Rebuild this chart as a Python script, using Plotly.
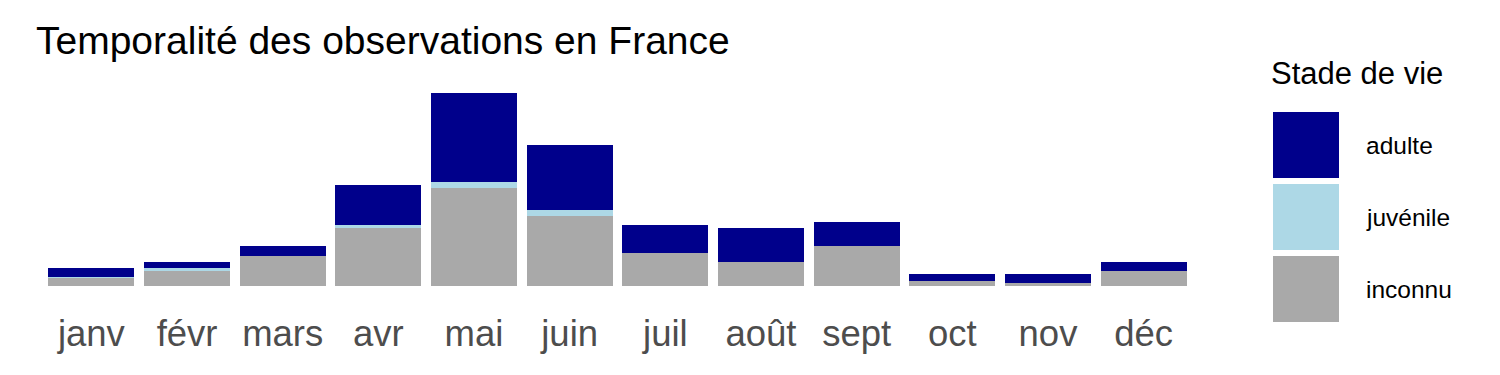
import plotly.graph_objects as go

months = ["janv", "févr", "mars", "avr", "mai", "juin", "juil", "août", "sept", "oct", "nov", "déc"]
inconnu = [9, 15, 30, 58, 98, 70, 33, 24, 40, 5.5, 3.3, 15]
juvenile = [0.4, 3, 0, 3, 6, 6, 0, 0, 0, 0, 0, 0]
adulte = [9, 6, 10, 40, 89, 65, 28, 34, 24, 6.5, 8.7, 9]

stages = ["inconnu", "juvénile", "adulte"]
stage_colors = {"adulte": "#00008B", "juvénile": "#ADD8E6", "inconnu": "#A9A9A9"}
series = {"inconnu": inconnu, "juvénile": juvenile, "adulte": adulte}

fig = go.Figure()
for s in stages:
    fig.add_trace(go.Bar(x=months, y=series[s], name=s, marker_color=stage_colors[s],
                         marker_line_width=0, width=0.9, showlegend=False))

tot_max = max(a + b + c for a, b, c in zip(inconnu, juvenile, adulte))
pad = 0.05 * tot_max

W, H = 1500, 375
PL, PR, PT, PB = 34, 1201, 83, 296
fig.update_layout(
    width=W, height=H, barmode="stack",
    margin=dict(l=PL, r=W - PR, t=PT, b=H - PB),
    plot_bgcolor="white", paper_bgcolor="white",
    font=dict(family="Liberation Sans, Arial, sans-serif"),
    title=dict(text="Temporalité des observations en France", x=36 / W, xanchor="left",
               xref="container", y=1 - 40 / H, yanchor="middle", yref="container",
               font=dict(size=39, color="black")),
    xaxis=dict(type="category", range=[-0.6, 11.6], showgrid=False, zeroline=False,
               showline=False, ticks="outside", ticklen=5, tickcolor="rgba(0,0,0,0)",
               tickfont=dict(size=36.5, color="#4D4D4D")),
    yaxis=dict(range=[-pad, tot_max + pad], showgrid=False, zeroline=False,
               showticklabels=False, showline=False),
)

def px(x):
    return (x - PL) / (PR - PL)

def py(y):
    return (PB - y) / (PB - PT)

# Manual legend (large key boxes)
legend_order = ["adulte", "juvénile", "inconnu"]
box_top = 112
box_size = 66
box_step = 72
for i, s in enumerate(legend_order):
    y0 = box_top + i * box_step
    fig.add_shape(type="rect", xref="paper", yref="paper",
                  x0=px(1273), x1=px(1339), y0=py(y0 + box_size), y1=py(y0),
                  fillcolor=stage_colors[s], line_width=0)
    fig.add_annotation(xref="paper", yref="paper", x=px(1364), y=py(y0 + box_size / 2),
                       text=s, showarrow=False, xanchor="left", yanchor="middle",
                       font=dict(size=24.5, color="black"))
fig.add_annotation(xref="paper", yref="paper", x=px(1269), y=py(73),
                   text="Stade de vie", showarrow=False, xanchor="left", yanchor="middle",
                   font=dict(size=31, color="black"))

fig.write_html("out.html")
